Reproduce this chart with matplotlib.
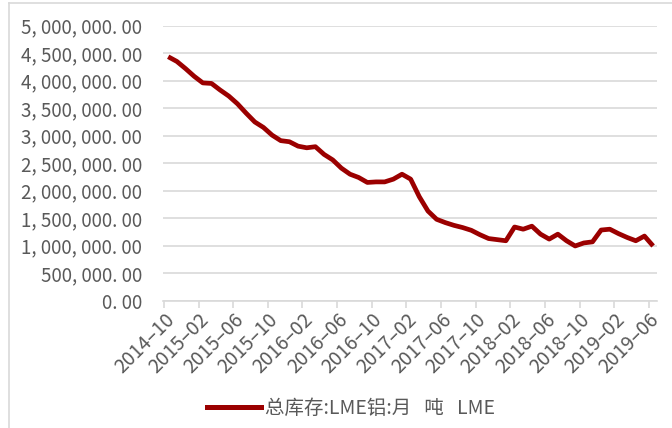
import matplotlib.pyplot as plt
import numpy as np
from matplotlib.lines import Line2D

plt.rcParams['font.family'] = ['Noto Sans CJK SC', 'DejaVu Sans']

# 月度 LME 铝总库存 (吨), 2014-10 ~ 2019-06
start_year, start_month = 2014, 10
stock = [
    4436000, 4350000, 4220000, 4080000, 3960000, 3950000, 3830000, 3720000,
    3580000, 3410000, 3250000, 3150000, 3010000, 2910000, 2890000, 2810000,
    2780000, 2800000, 2660000, 2560000, 2410000, 2300000, 2240000, 2150000,
    2160000, 2160000, 2210000, 2300000, 2210000, 1890000, 1630000, 1480000,
    1420000, 1370000, 1330000, 1280000, 1200000, 1130000, 1110000, 1090000,
    1340000, 1300000, 1355000, 1210000, 1120000, 1210000, 1090000, 995000,
    1050000, 1070000, 1285000, 1300000, 1220000, 1150000, 1090000, 1175000,
    995000,
]
legend_label = '总库存:LME铝:月   吨   LME'

months = []
y, m = start_year, start_month
for _ in stock:
    months.append(f'{y}-{m:02d}')
    m += 1
    if m > 12:
        m = 1
        y += 1

x = np.arange(len(stock))

fig = plt.figure(figsize=(6.72, 4.28), dpi=100)
ax = fig.add_axes([163 / 672, 1 - 300.7 / 428, (657 - 163) / 672, (300.7 - 25.7) / 428])

ax.plot(x, stock, color='#9b0000', linewidth=3.4, solid_joinstyle='round',
        solid_capstyle='butt', zorder=3)

ax.set_ylim(0, 5000000)
ax.set_xlim(-0.6, len(stock) - 0.55)
yt = np.arange(0, 5000001, 500000)
ax.set_yticks(yt)
ax.set_yticklabels([f'{v:,.2f}'.replace(',', ', ').replace('.', '. ') for v in yt],
                   fontsize=13.5, color='#595959')
ax.grid(axis='y', color='#d9d9d9', linewidth=1.2)
ax.set_axisbelow(True)
ax.tick_params(axis='y', length=0, pad=15)

tick_idx = list(range(0, len(stock), 4))
ax.set_xticks([i - 0.5 for i in tick_idx])
ax.set_xticklabels([months[i].replace('-', '–') for i in tick_idx], rotation=45, ha='right',
                   rotation_mode='anchor', fontsize=14, color='#595959')
ax.tick_params(axis='x', length=5, color='#d9d9d9', width=1.2, pad=1)
for lab in ax.get_xticklabels():
    lab.set_x(lab.get_position()[0])

for s in ['top', 'right', 'left']:
    ax.spines[s].set_visible(False)
ax.spines['bottom'].set_color('#d9d9d9')
ax.spines['bottom'].set_linewidth(1.2)

handle = Line2D([], [], color='#9b0000', linewidth=3.6)
fig.legend([handle], [legend_label], loc='center', bbox_to_anchor=(351 / 672, 1 - 408 / 428),
           frameon=False, fontsize=14, handlelength=2.8, handletextpad=0.2,
           labelcolor='#595959')

# 外框
fig.add_artist(Line2D([9 / 672, 9 / 672], [0, 1 - 3 / 428], transform=fig.transFigure,
                      color='#d9d9d9', linewidth=1.2))
fig.add_artist(Line2D([9 / 672, 1], [1 - 3 / 428, 1 - 3 / 428], transform=fig.transFigure,
                      color='#d9d9d9', linewidth=1.2))

fig.savefig('out.png', dpi=100)
